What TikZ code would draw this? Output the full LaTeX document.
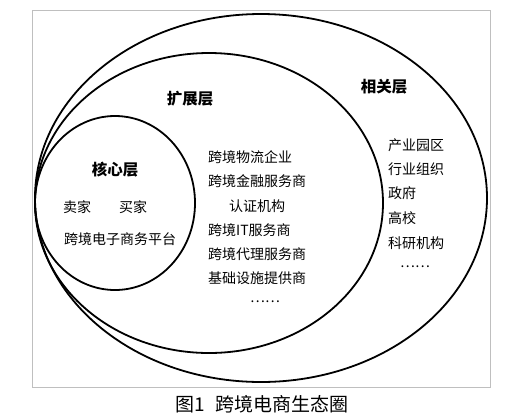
\documentclass[tikz,border=0pt]{standalone}
\usepackage{fontspec}
\newfontfamily\cjk{Noto Sans CJK SC}
\begin{document}
\begin{tikzpicture}
	[x=1pt, y=-1pt,
	layer/.style={black, line width=1.8pt},
	title/.style={font=\cjk\fontsize{15.5}{15.5}\selectfont\bfseries, inner sep=0pt},
	item/.style={font=\cjk\fontsize{14}{14}\selectfont, inner sep=0pt}]

	\useasboundingbox (0,0) rectangle (522,416);

	% Draw frame
	\draw[gray!50, line width=0.8pt] (32,10) rectangle (490,387);

	% Draw layers
	\coordinate (OUTER) at (261,198);
	\coordinate (MIDDLE) at (209,203);
	\coordinate (CORE) at (115,203);

	\draw[layer] (OUTER) ellipse[x radius=226, y radius=184];
	\draw[layer] (MIDDLE) ellipse[x radius=174, y radius=150];
	\draw[layer] (CORE) ellipse[x radius=80, y radius=87];

	% Core layer
	\node[title] (core) at (115,170) {核心层};
	\node[item] (seller) at (77,207) {卖家};
	\node[item] (buyer) at (133,207) {买家};
	\node[item] (platform) at (120,239) {跨境电子商务平台};

	% Extended layer
	\node[title] (ext) at (190,99) {扩展层};
	\foreach \y/\t/\n in {157/跨境物流企业/m1, 181/跨境金融服务商/m2,
		230/跨境IT服务商/m4, 254/跨境代理服务商/m5, 278/基础设施提供商/m6}
		\node[item, anchor=west] (\n) at (208,\y) {\t};
	\node[item] (m3) at (257,206) {认证机构};
	\node[item] (m7) at (265,302) {……};

	% Related layer
	\node[title] (rel) at (384,87) {相关层};
	\foreach \y/\t/\n in {145/产业园区/r1, 169/行业组织/r2, 193/政府/r3,
		218/高校/r4, 243/科研机构/r5}
		\node[item, anchor=west] (\n) at (388,\y) {\t};
	\node[item] (r6) at (415,267) {……};

	% Caption
	\node[font=\cjk\fontsize{19}{19}\selectfont, inner sep=0pt] (caption) at (262,404) {图1\hspace{0.5em}跨境电商生态圈};

\end{tikzpicture}
\end{document}
